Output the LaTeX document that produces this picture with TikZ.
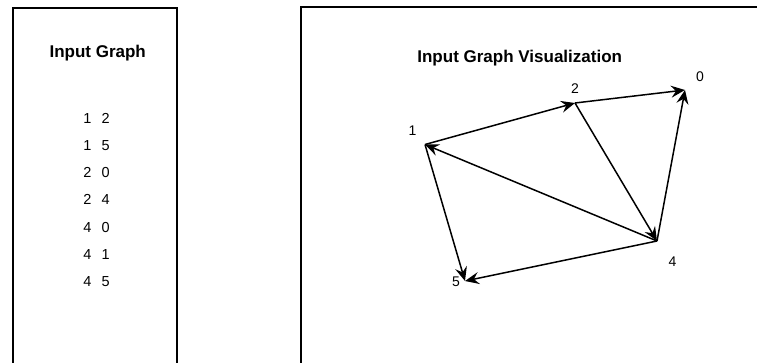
\documentclass[tikz,border=0pt]{standalone}
\usepackage{fontspec}
\setmainfont{Liberation Sans}
\usetikzlibrary{arrows.meta, calc}

\begin{document}
\begin{tikzpicture}[x=1pt, y=-1pt, >={Stealth[length=14pt, width=12pt, inset=5pt]}]

    % --- Styles ---
    \tikzset{
        frameBox/.style={draw=black, line width=2pt},
        titleText/.style={font=\fontsize{17}{20}\selectfont\bfseries, anchor=base, inner sep=0pt},
        edgeRow/.style={font=\fontsize{14.5}{17}\selectfont, anchor=base, inner sep=0pt},
        vertLabel/.style={font=\fontsize{14}{16}\selectfont, inner sep=0pt},
        graphEdge/.style={->, line width=1.5pt}
    }

    \useasboundingbox (0,0) rectangle (757,363);
    \clip (0,0) rectangle (757,363);

    % --- Panels ---
    \draw[frameBox] (13,8) rectangle (177,380);
    \draw[frameBox] (301,7) rectangle (780,380);

    % --- Edge list ---
    \node[titleText] (listTitle) at (97.7,57.7) {Input Graph};
    \foreach \a/\b [count=\i] in {1/2, 1/5, 2/0, 2/4, 4/0, 4/1, 4/5} {
        \node[edgeRow] (row\i) at (96.5, {96.1+27.2*\i}) {\a\hspace{10.3pt}\b};
    }

    % --- Visualization ---
    \node[titleText] (vizTitle) at (519.7,62.7) {Input Graph Visualization};

    \coordinate (N0) at (685,90);
    \coordinate (N1) at (425,144.5);
    \coordinate (N2) at (575,103);
    \coordinate (N4) at (657,241);
    \coordinate (N5) at (465,281);

    \draw[graphEdge] (N1) -- (N2);
    \draw[graphEdge] (N1) -- (N5);
    \draw[graphEdge] (N2) -- (N0);
    \draw[graphEdge] (N2) -- (N4);
    \draw[graphEdge] (N4) -- (N0);
    \draw[graphEdge] (N4) -- (N1);
    \draw[graphEdge] (N4) -- (N5);

    % --- Vertex labels ---
    \node[vertLabel] (L0) at ($(N0)+(15,-13)$) {0};
    \node[vertLabel] (L1) at ($(N1)+(-12.5,-13.5)$) {1};
    \node[vertLabel] (L2) at ($(N2)+(0,-14)$) {2};
    \node[vertLabel] (L4) at ($(N4)+(15.5,21)$) {4};
    \node[vertLabel] (L5) at ($(N5)+(-9,1)$) {5};

\end{tikzpicture}
\end{document}
